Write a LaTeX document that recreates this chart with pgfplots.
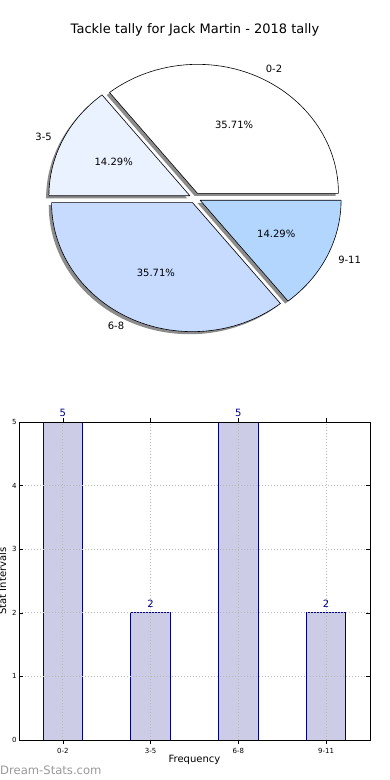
\documentclass[border=0pt]{standalone}
\usepackage{fontspec}
\setmainfont{DejaVu Sans}
\usepackage{pgfplots}
\pgfplotsset{compat=1.18}
\definecolor{cA}{HTML}{FFFFFF}
\definecolor{cB}{HTML}{EBF2FF}
\definecolor{cC}{HTML}{C6DBFF}
\definecolor{cD}{HTML}{B3D6FF}
\definecolor{barfill}{HTML}{CCCCE6}
\definecolor{baredge}{HTML}{00008B}
\definecolor{shadowc}{HTML}{8C8C8C}
% pie values
\def\vA{5}\def\vB{2}\def\vC{5}\def\vD{2}
\pgfmathsetmacro\vT{\vA+\vB+\vC+\vD}
\pgfmathsetmacro\aA{0}
\pgfmathsetmacro\aB{360*\vA/\vT}
\pgfmathsetmacro\aC{360*(\vA+\vB)/\vT}
\pgfmathsetmacro\aD{360*(\vA+\vB+\vC)/\vT}
\pgfmathsetmacro\aE{360}
\newcommand\sliceshadow[2]{%
  \fill[shadowc] (axis cs:{0.04*cos((#1+#2)/2)-0.02},{0.04*sin((#1+#2)/2)-0.02})
   -- (axis cs:{0.04*cos((#1+#2)/2)-0.02+cos(#1)},{0.04*sin((#1+#2)/2)-0.02+sin(#1)})
   arc[start angle=#1, end angle=#2, x radius=141pt, y radius=129pt] -- cycle;}
\newcommand\slice[3]{%
  \filldraw[fill=#3, draw=black, line width=0.6pt, line join=round] (axis cs:{0.04*cos((#1+#2)/2)},{0.04*sin((#1+#2)/2)})
   -- (axis cs:{0.04*cos((#1+#2)/2)+cos(#1)},{0.04*sin((#1+#2)/2)+sin(#1)})
   arc[start angle=#1, end angle=#2, x radius=141pt, y radius=129pt] -- cycle;}
\begin{document}
\begin{tikzpicture}[x=1pt,y=1pt]
\useasboundingbox (0,0) rectangle (390,780);
\node[font=\fontsize{13}{15}\selectfont] at (195,750) {Tackle tally for Jack Martin - 2018 tally};
\begin{axis}[at={(0pt,410pt)}, anchor=south west, width=390pt, height=340pt,
  scale only axis, hide axis, clip=false,
  xmin=-1.3830, xmax=1.3830, ymin=-1.3333, ymax=1.3023]
  \sliceshadow{\aA}{\aB}
  \sliceshadow{\aB}{\aC}
  \sliceshadow{\aC}{\aD}
  \sliceshadow{\aD}{\aE}
  \slice{\aA}{\aB}{cA}
  \slice{\aB}{\aC}{cB}
  \slice{\aC}{\aD}{cC}
  \slice{\aD}{\aE}{cD}
  \begin{scope}[every node/.style={font=\fontsize{10}{12}\selectfont}]
  \node[anchor=west] at (axis cs:{1.1*cos((\aA+\aB)/2)},{1.1*sin((\aA+\aB)/2)+0.01}) {0-2};
  \node[anchor=east] at (axis cs:{1.1*cos((\aB+\aC)/2)},{1.1*sin((\aB+\aC)/2)}) {3-5};
  \node[anchor=east] at (axis cs:{1.1*cos((\aC+\aD)/2)},{1.1*sin((\aC+\aD)/2)}) {6-8};
  \node[anchor=west] at (axis cs:{1.1*cos((\aD+\aE)/2)},{1.1*sin((\aD+\aE)/2)}) {9-11};
  \node at (axis cs:{0.64*cos((\aA+\aB)/2)},{0.64*sin((\aA+\aB)/2)-0.01}) {35.71\%};
  \node at (axis cs:{0.64*cos((\aB+\aC)/2)},{0.64*sin((\aB+\aC)/2)}) {14.29\%};
  \node at (axis cs:{0.64*cos((\aC+\aD)/2)},{0.64*sin((\aC+\aD)/2)}) {35.71\%};
  \node at (axis cs:{0.64*cos((\aD+\aE)/2)},{0.64*sin((\aD+\aE)/2)}) {14.29\%};
  \end{scope}
\end{axis}
\begin{axis}[at={(19pt,40pt)}, anchor=south west, width=351pt, height=318pt,
  scale only axis, axis on top,
  xmin=-0.5, xmax=3.5, ymin=0, ymax=5,
  xtick={0,1,2,3}, xticklabels={0-2,3-5,6-8,9-11},
  ytick={0,1,2,3,4,5},
  tick align=inside, xtick pos=both, ytick pos=both,
  major tick length=4pt,
  tick style={black, line width=0.5pt},
  grid=major, grid style={dash pattern=on 1pt off 2pt, gray!55, line width=1pt},
  axis line style={line width=0.8pt},
  /pgf/number format/assume math mode=true,
  tick label style={font=\fontsize{7}{8}\selectfont},
  xticklabel style={yshift=-1pt},
  yticklabel style={xshift=1pt},
  xlabel={Frequency}, ylabel={Stat Intervals},
  label style={font=\fontsize{10}{12}\selectfont},
  xlabel style={at={(axis description cs:0.5,0)}, anchor=center, yshift=-20pt},
  ylabel style={at={(axis description cs:-0.047,0.5)}, anchor=center},
  ybar, bar width=0.45,
  nodes near coords,
  every node near coord/.append style={font=\fontsize{10}{12}\selectfont, text=baredge, yshift=2pt},
]
\addplot[fill=barfill, draw=baredge, line width=0.8pt] coordinates {(0,5) (1,2) (2,5) (3,2)};
\end{axis}
\node[anchor=west, inner sep=0pt, text=gray!80, font=\fontsize{11.6}{13}\selectfont] at (0,10) {Dream-Stats.com};
\end{tikzpicture}
\end{document}
